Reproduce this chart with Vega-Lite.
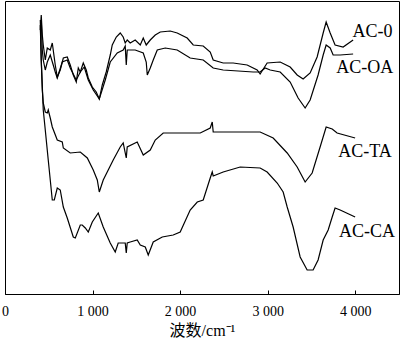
{
  "$schema": "https://vega.github.io/schema/vega-lite/v6.json",
  "autosize": {"type": "none"},
  "width": 394,
  "height": 293,
  "padding": {"left": 5, "top": 1, "right": 1, "bottom": 46},
  "background": "white",
  "config": {
    "view": {"stroke": "black", "strokeWidth": 1},
    "axis": {"domainColor": "black", "tickColor": "black", "labelColor": "black", "titleColor": "black", "grid": false}
  },
  "datasets": {
    "spectra": [
      {"series": "AC-0", "wn": 403, "t": 264}, {"series": "AC-0", "wn": 414, "t": 279}, {"series": "AC-0", "wn": 426, "t": 259}, {"series": "AC-0", "wn": 437, "t": 249}, {"series": "AC-0", "wn": 460, "t": 234}, {"series": "AC-0", "wn": 483, "t": 246}, {"series": "AC-0", "wn": 517, "t": 244}, {"series": "AC-0", "wn": 540, "t": 251}, {"series": "AC-0", "wn": 574, "t": 229}, {"series": "AC-0", "wn": 597, "t": 217}, {"series": "AC-0", "wn": 631, "t": 224}, {"series": "AC-0", "wn": 666, "t": 236}, {"series": "AC-0", "wn": 711, "t": 237}, {"series": "AC-0", "wn": 745, "t": 229}, {"series": "AC-0", "wn": 780, "t": 219}, {"series": "AC-0", "wn": 814, "t": 212}, {"series": "AC-0", "wn": 837, "t": 226}, {"series": "AC-0", "wn": 860, "t": 222}, {"series": "AC-0", "wn": 894, "t": 231}, {"series": "AC-0", "wn": 928, "t": 224}, {"series": "AC-0", "wn": 951, "t": 216}, {"series": "AC-0", "wn": 997, "t": 207}, {"series": "AC-0", "wn": 1042, "t": 202}, {"series": "AC-0", "wn": 1077, "t": 195}, {"series": "AC-0", "wn": 1111, "t": 209}, {"series": "AC-0", "wn": 1156, "t": 222}, {"series": "AC-0", "wn": 1202, "t": 239}, {"series": "AC-0", "wn": 1225, "t": 249}, {"series": "AC-0", "wn": 1271, "t": 257}, {"series": "AC-0", "wn": 1316, "t": 261}, {"series": "AC-0", "wn": 1350, "t": 257}, {"series": "AC-0", "wn": 1373, "t": 251}, {"series": "AC-0", "wn": 1396, "t": 254}, {"series": "AC-0", "wn": 1430, "t": 251}, {"series": "AC-0", "wn": 1487, "t": 254}, {"series": "AC-0", "wn": 1545, "t": 249}, {"series": "AC-0", "wn": 1579, "t": 256}, {"series": "AC-0", "wn": 1613, "t": 249}, {"series": "AC-0", "wn": 1659, "t": 254}, {"series": "AC-0", "wn": 1716, "t": 259}, {"series": "AC-0", "wn": 1773, "t": 262}, {"series": "AC-0", "wn": 1887, "t": 263}, {"series": "AC-0", "wn": 1967, "t": 261}, {"series": "AC-0", "wn": 2081, "t": 256}, {"series": "AC-0", "wn": 2150, "t": 249}, {"series": "AC-0", "wn": 2264, "t": 248}, {"series": "AC-0", "wn": 2344, "t": 242}, {"series": "AC-0", "wn": 2378, "t": 234}, {"series": "AC-0", "wn": 2492, "t": 231}, {"series": "AC-0", "wn": 2606, "t": 231}, {"series": "AC-0", "wn": 2766, "t": 229}, {"series": "AC-0", "wn": 2880, "t": 224}, {"series": "AC-0", "wn": 2914, "t": 220}, {"series": "AC-0", "wn": 2994, "t": 231}, {"series": "AC-0", "wn": 3143, "t": 232}, {"series": "AC-0", "wn": 3257, "t": 227}, {"series": "AC-0", "wn": 3337, "t": 219}, {"series": "AC-0", "wn": 3405, "t": 215}, {"series": "AC-0", "wn": 3485, "t": 221}, {"series": "AC-0", "wn": 3565, "t": 237}, {"series": "AC-0", "wn": 3634, "t": 261}, {"series": "AC-0", "wn": 3668, "t": 272}, {"series": "AC-0", "wn": 3714, "t": 261}, {"series": "AC-0", "wn": 3770, "t": 249}, {"series": "AC-0", "wn": 3862, "t": 247}, {"series": "AC-0", "wn": 3976, "t": 254},

      {"series": "AC-OA", "wn": 414, "t": 274}, {"series": "AC-OA", "wn": 426, "t": 244}, {"series": "AC-OA", "wn": 437, "t": 234}, {"series": "AC-OA", "wn": 460, "t": 224}, {"series": "AC-OA", "wn": 483, "t": 232}, {"series": "AC-OA", "wn": 517, "t": 239}, {"series": "AC-OA", "wn": 551, "t": 229}, {"series": "AC-OA", "wn": 574, "t": 222}, {"series": "AC-OA", "wn": 597, "t": 216}, {"series": "AC-OA", "wn": 654, "t": 232}, {"series": "AC-OA", "wn": 711, "t": 234}, {"series": "AC-OA", "wn": 745, "t": 226}, {"series": "AC-OA", "wn": 768, "t": 222}, {"series": "AC-OA", "wn": 814, "t": 214}, {"series": "AC-OA", "wn": 860, "t": 222}, {"series": "AC-OA", "wn": 905, "t": 227}, {"series": "AC-OA", "wn": 951, "t": 214}, {"series": "AC-OA", "wn": 1008, "t": 204}, {"series": "AC-OA", "wn": 1077, "t": 195}, {"series": "AC-OA", "wn": 1145, "t": 214}, {"series": "AC-OA", "wn": 1202, "t": 232}, {"series": "AC-OA", "wn": 1282, "t": 241}, {"series": "AC-OA", "wn": 1350, "t": 244}, {"series": "AC-OA", "wn": 1373, "t": 248}, {"series": "AC-OA", "wn": 1385, "t": 229}, {"series": "AC-OA", "wn": 1396, "t": 244}, {"series": "AC-OA", "wn": 1487, "t": 244}, {"series": "AC-OA", "wn": 1579, "t": 241}, {"series": "AC-OA", "wn": 1613, "t": 232}, {"series": "AC-OA", "wn": 1625, "t": 219}, {"series": "AC-OA", "wn": 1659, "t": 226}, {"series": "AC-OA", "wn": 1693, "t": 234}, {"series": "AC-OA", "wn": 1739, "t": 244}, {"series": "AC-OA", "wn": 1830, "t": 246}, {"series": "AC-OA", "wn": 1967, "t": 244}, {"series": "AC-OA", "wn": 2115, "t": 236}, {"series": "AC-OA", "wn": 2264, "t": 234}, {"series": "AC-OA", "wn": 2378, "t": 226}, {"series": "AC-OA", "wn": 2492, "t": 224}, {"series": "AC-OA", "wn": 2835, "t": 222}, {"series": "AC-OA", "wn": 2914, "t": 222}, {"series": "AC-OA", "wn": 2971, "t": 226}, {"series": "AC-OA", "wn": 3029, "t": 224}, {"series": "AC-OA", "wn": 3143, "t": 222}, {"series": "AC-OA", "wn": 3257, "t": 212}, {"series": "AC-OA", "wn": 3348, "t": 196}, {"series": "AC-OA", "wn": 3428, "t": 186}, {"series": "AC-OA", "wn": 3485, "t": 194}, {"series": "AC-OA", "wn": 3576, "t": 219}, {"series": "AC-OA", "wn": 3634, "t": 239}, {"series": "AC-OA", "wn": 3668, "t": 249}, {"series": "AC-OA", "wn": 3714, "t": 246}, {"series": "AC-OA", "wn": 3748, "t": 239}, {"series": "AC-OA", "wn": 3828, "t": 239}, {"series": "AC-OA", "wn": 3976, "t": 240},

      {"series": "AC-TA", "wn": 403, "t": 274}, {"series": "AC-TA", "wn": 414, "t": 234}, {"series": "AC-TA", "wn": 426, "t": 204}, {"series": "AC-TA", "wn": 437, "t": 191}, {"series": "AC-TA", "wn": 460, "t": 182}, {"series": "AC-TA", "wn": 483, "t": 181}, {"series": "AC-TA", "wn": 494, "t": 184}, {"series": "AC-TA", "wn": 517, "t": 176}, {"series": "AC-TA", "wn": 540, "t": 167}, {"series": "AC-TA", "wn": 597, "t": 154}, {"series": "AC-TA", "wn": 654, "t": 152}, {"series": "AC-TA", "wn": 666, "t": 146}, {"series": "AC-TA", "wn": 745, "t": 141}, {"series": "AC-TA", "wn": 860, "t": 142}, {"series": "AC-TA", "wn": 940, "t": 136}, {"series": "AC-TA", "wn": 1008, "t": 124}, {"series": "AC-TA", "wn": 1054, "t": 114}, {"series": "AC-TA", "wn": 1077, "t": 102}, {"series": "AC-TA", "wn": 1122, "t": 114}, {"series": "AC-TA", "wn": 1236, "t": 134}, {"series": "AC-TA", "wn": 1316, "t": 147}, {"series": "AC-TA", "wn": 1350, "t": 151}, {"series": "AC-TA", "wn": 1385, "t": 136}, {"series": "AC-TA", "wn": 1396, "t": 147}, {"series": "AC-TA", "wn": 1510, "t": 152}, {"series": "AC-TA", "wn": 1579, "t": 139}, {"series": "AC-TA", "wn": 1659, "t": 144}, {"series": "AC-TA", "wn": 1716, "t": 154}, {"series": "AC-TA", "wn": 1807, "t": 161}, {"series": "AC-TA", "wn": 2001, "t": 161}, {"series": "AC-TA", "wn": 2230, "t": 161}, {"series": "AC-TA", "wn": 2344, "t": 166}, {"series": "AC-TA", "wn": 2367, "t": 172}, {"series": "AC-TA", "wn": 2378, "t": 162}, {"series": "AC-TA", "wn": 2606, "t": 162}, {"series": "AC-TA", "wn": 2914, "t": 162}, {"series": "AC-TA", "wn": 3063, "t": 156}, {"series": "AC-TA", "wn": 3223, "t": 141}, {"series": "AC-TA", "wn": 3337, "t": 127}, {"series": "AC-TA", "wn": 3428, "t": 112}, {"series": "AC-TA", "wn": 3508, "t": 121}, {"series": "AC-TA", "wn": 3599, "t": 147}, {"series": "AC-TA", "wn": 3668, "t": 167}, {"series": "AC-TA", "wn": 3737, "t": 165}, {"series": "AC-TA", "wn": 3793, "t": 161}, {"series": "AC-TA", "wn": 3999, "t": 156},

      {"series": "AC-CA", "wn": 403, "t": 269}, {"series": "AC-CA", "wn": 414, "t": 234}, {"series": "AC-CA", "wn": 437, "t": 184}, {"series": "AC-CA", "wn": 460, "t": 164}, {"series": "AC-CA", "wn": 494, "t": 134}, {"series": "AC-CA", "wn": 540, "t": 94}, {"series": "AC-CA", "wn": 563, "t": 94}, {"series": "AC-CA", "wn": 597, "t": 106}, {"series": "AC-CA", "wn": 631, "t": 104}, {"series": "AC-CA", "wn": 666, "t": 87}, {"series": "AC-CA", "wn": 711, "t": 76}, {"series": "AC-CA", "wn": 780, "t": 57}, {"series": "AC-CA", "wn": 803, "t": 56}, {"series": "AC-CA", "wn": 860, "t": 69}, {"series": "AC-CA", "wn": 882, "t": 69}, {"series": "AC-CA", "wn": 917, "t": 66}, {"series": "AC-CA", "wn": 951, "t": 62}, {"series": "AC-CA", "wn": 997, "t": 72}, {"series": "AC-CA", "wn": 1065, "t": 81}, {"series": "AC-CA", "wn": 1122, "t": 67}, {"series": "AC-CA", "wn": 1202, "t": 51}, {"series": "AC-CA", "wn": 1259, "t": 42}, {"series": "AC-CA", "wn": 1293, "t": 51}, {"series": "AC-CA", "wn": 1373, "t": 51}, {"series": "AC-CA", "wn": 1385, "t": 41}, {"series": "AC-CA", "wn": 1396, "t": 51}, {"series": "AC-CA", "wn": 1430, "t": 52}, {"series": "AC-CA", "wn": 1510, "t": 54}, {"series": "AC-CA", "wn": 1545, "t": 49}, {"series": "AC-CA", "wn": 1602, "t": 47}, {"series": "AC-CA", "wn": 1636, "t": 39}, {"series": "AC-CA", "wn": 1693, "t": 52}, {"series": "AC-CA", "wn": 1796, "t": 57}, {"series": "AC-CA", "wn": 1921, "t": 59}, {"series": "AC-CA", "wn": 2001, "t": 62}, {"series": "AC-CA", "wn": 2115, "t": 84}, {"series": "AC-CA", "wn": 2196, "t": 92}, {"series": "AC-CA", "wn": 2264, "t": 94}, {"series": "AC-CA", "wn": 2344, "t": 116}, {"series": "AC-CA", "wn": 2367, "t": 122}, {"series": "AC-CA", "wn": 2378, "t": 118}, {"series": "AC-CA", "wn": 2492, "t": 122}, {"series": "AC-CA", "wn": 2686, "t": 127}, {"series": "AC-CA", "wn": 2914, "t": 126}, {"series": "AC-CA", "wn": 2994, "t": 122}, {"series": "AC-CA", "wn": 3109, "t": 111}, {"series": "AC-CA", "wn": 3177, "t": 102}, {"series": "AC-CA", "wn": 3223, "t": 87}, {"series": "AC-CA", "wn": 3291, "t": 67}, {"series": "AC-CA", "wn": 3371, "t": 37}, {"series": "AC-CA", "wn": 3451, "t": 24}, {"series": "AC-CA", "wn": 3519, "t": 24}, {"series": "AC-CA", "wn": 3576, "t": 34}, {"series": "AC-CA", "wn": 3634, "t": 54}, {"series": "AC-CA", "wn": 3691, "t": 64}, {"series": "AC-CA", "wn": 3737, "t": 77}, {"series": "AC-CA", "wn": 3770, "t": 86}, {"series": "AC-CA", "wn": 3828, "t": 84}, {"series": "AC-CA", "wn": 3999, "t": 77}
    ],
    "labels": [
      {"series": "AC-0", "wn": 3969, "t": 262},
      {"series": "AC-OA", "wn": 3782, "t": 226},
      {"series": "AC-TA", "wn": 3805, "t": 142},
      {"series": "AC-CA", "wn": 3816, "t": 62}
    ]
  },
  "layer": [
    {
      "data": {"name": "spectra"},
      "mark": {"type": "line", "color": "black", "strokeWidth": 1.2, "interpolate": "linear"},
      "encoding": {
        "x": {
          "field": "wn", "type": "quantitative",
          "scale": {"domain": [0, 4500], "nice": false},
          "axis": {
            "values": [0, 1000, 2000, 3000, 4000],
            "labelExpr": "datum.value == 0 ? '0' : replace(format(datum.value, ','), ',', ' ')",
            "tickSize": -4,
            "labelFlush": false,
            "labelBound": false,
            "labelPadding": 14,
            "labelFont": "Liberation Serif",
            "labelFontSize": 14,
            "title": "波数/cm⁻¹",
            "titleFont": "Liberation Serif, Noto Sans CJK SC",
            "titleFontSize": 16,
            "titleFontWeight": "normal",
            "titlePadding": 4
          }
        },
        "y": {
          "field": "t", "type": "quantitative",
          "scale": {"domain": [0, 293], "nice": false, "zero": false},
          "axis": null
        },
        "detail": {"field": "series"}
      }
    },
    {
      "data": {"name": "labels"},
      "mark": {"type": "text", "align": "left", "baseline": "middle", "font": "Liberation Serif", "fontSize": 18, "color": "black"},
      "encoding": {
        "x": {"field": "wn", "type": "quantitative"},
        "y": {"field": "t", "type": "quantitative"},
        "text": {"field": "series"}
      }
    }
  ]
}
